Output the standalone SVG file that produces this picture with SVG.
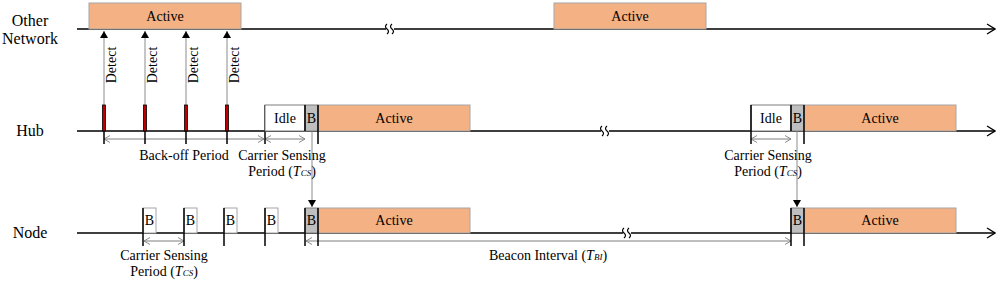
<svg xmlns="http://www.w3.org/2000/svg" width="1000" height="282" viewBox="0 0 1000 282" font-family="'Liberation Serif', 'Times New Roman', serif">
<style>
text{font-family:'Liberation Serif','Times New Roman',serif;font-size:14px;fill:#000}
.big{font-size:16px}
.mid{text-anchor:middle}
.axis{stroke:#000;stroke-width:1.3;fill:none}
.act{fill:#F4B183;stroke:#A6A6A6;stroke-width:1}
.idle{fill:#fff;stroke:#7F7F7F;stroke-width:1}
.bg{fill:#BFBFBF;stroke:#7F7F7F;stroke-width:1}
.bw{fill:#fff;stroke:#A6A6A6;stroke-width:1}
.red{fill:#C00000;stroke:#000;stroke-width:0.8}
.tick{stroke:#000;stroke-width:1.5}
.dim{stroke:#7F7F7F;stroke-width:1;fill:none}
.gl{stroke:#8C8C8C;stroke-width:1;fill:none}
.brk{stroke:#000;stroke-width:1.2;fill:none}
</style>
<defs>
<marker id="open" markerWidth="10" markerHeight="12" refX="9" refY="6" orient="auto" markerUnits="userSpaceOnUse">
<path d="M1,1 L9,6 L1,11" fill="none" stroke="#000" stroke-width="1.3"/>
</marker>
<marker id="dimA" markerWidth="8" markerHeight="8" refX="7" refY="4" orient="auto-start-reverse" markerUnits="userSpaceOnUse">
<path d="M1,0.5 L7,4 L1,7.5" fill="none" stroke="#7F7F7F" stroke-width="0.9"/>
</marker>
<marker id="tri" markerWidth="8" markerHeight="8" refX="7" refY="4" orient="auto" markerUnits="userSpaceOnUse">
<path d="M0,0 L7,4 L0,8 Z" fill="#000"/>
</marker>
</defs>

<g id="labels">
<text x="30" y="26" class="mid big">Other</text>
<text x="30" y="44" class="mid big">Network</text>
<text x="30" y="136" class="mid big">Hub</text>
<text x="30" y="238" class="mid big">Node</text>
</g>

<g id="connectors">
<path class="axis" d="M77,29 H386 M394,29 H995" marker-end="url(#open)"/>
<path class="axis" d="M77,131 H601 M609,131 H995" marker-end="url(#open)"/>
<path class="axis" d="M77,233 H623 M631,233 H995" marker-end="url(#open)"/>
<path class="brk" d="M387,24 q-3,2.5 0,5 q3,2.5 0,5 M392,24 q-3,2.5 0,5 q3,2.5 0,5"/>
<path class="brk" d="M602,126 q-3,2.5 0,5 q3,2.5 0,5 M607,126 q-3,2.5 0,5 q3,2.5 0,5"/>
<path class="brk" d="M624,228 q-3,2.5 0,5 q3,2.5 0,5 M629,228 q-3,2.5 0,5 q3,2.5 0,5"/>
<line class="gl" x1="104" y1="105" x2="104" y2="31" marker-end="url(#tri)"/>
<line class="gl" x1="145" y1="105" x2="145" y2="31" marker-end="url(#tri)"/>
<line class="gl" x1="186" y1="105" x2="186" y2="31" marker-end="url(#tri)"/>
<line class="gl" x1="227" y1="105" x2="227" y2="31" marker-end="url(#tri)"/>
<line class="gl" x1="312" y1="131" x2="312" y2="207" marker-end="url(#tri)"/>
<line class="gl" x1="797" y1="131" x2="797" y2="207" marker-end="url(#tri)"/>
<line class="dim" x1="104" y1="139" x2="264" y2="139" marker-start="url(#dimA)" marker-end="url(#dimA)"/>
<line class="dim" x1="265" y1="139" x2="305" y2="139" marker-start="url(#dimA)" marker-end="url(#dimA)"/>
<line class="dim" x1="751" y1="139" x2="791" y2="139" marker-start="url(#dimA)" marker-end="url(#dimA)"/>
<line class="dim" x1="144" y1="241" x2="184" y2="241" marker-start="url(#dimA)" marker-end="url(#dimA)"/>
<line class="dim" x1="306" y1="241" x2="791" y2="241" marker-start="url(#dimA)" marker-end="url(#dimA)"/>
</g>

<g id="other-network">
<rect class="act" x="89" y="3" width="152" height="26"/>
<text x="165" y="21" class="mid">Active</text>
<rect class="act" x="554" y="3" width="152" height="26"/>
<text x="630" y="21" class="mid">Active</text>
<text transform="translate(116,65) rotate(-90)" class="mid">Detect</text>
<text transform="translate(157,65) rotate(-90)" class="mid">Detect</text>
<text transform="translate(198,65) rotate(-90)" class="mid">Detect</text>
<text transform="translate(239,65) rotate(-90)" class="mid">Detect</text>
</g>

<g id="hub">
<rect class="red" x="102.5" y="105" width="3" height="26"/>
<rect class="red" x="143.5" y="105" width="3" height="26"/>
<rect class="red" x="184.5" y="105" width="3" height="26"/>
<rect class="red" x="225.5" y="105" width="3" height="26"/>
<path class="tick" d="M104,131 V144 M145,131 V144 M186,131 V144 M227,131 V144 M265,105 V144"/>
<rect class="idle" x="265" y="105" width="40" height="26"/>
<text x="285" y="123" class="mid">Idle</text>
<rect class="bg" x="305" y="105" width="13" height="26"/>
<text x="311.5" y="123" class="mid">B</text>
<rect class="act" x="318" y="105" width="152" height="26"/>
<text x="394" y="123" class="mid">Active</text>
<path class="tick" d="M305,105 V131 M318,105 V144"/>
<text x="184" y="160" class="mid">Back-off Period</text>
<text x="282" y="160" class="mid">Carrier Sensing</text>
<text x="282" y="176" class="mid">Period (<tspan font-style="italic">T</tspan><tspan font-style="italic" font-size="9">CS</tspan>)</text>
<rect class="idle" x="751" y="105" width="40" height="26"/>
<text x="771" y="123" class="mid">Idle</text>
<rect class="bg" x="791" y="105" width="13" height="26"/>
<text x="797.5" y="123" class="mid">B</text>
<rect class="act" x="804" y="105" width="152" height="26"/>
<text x="880" y="123" class="mid">Active</text>
<path class="tick" d="M751,105 V144 M791,105 V131 M804,105 V144"/>
<text x="768" y="160" class="mid">Carrier Sensing</text>
<text x="768" y="176" class="mid">Period (<tspan font-style="italic">T</tspan><tspan font-style="italic" font-size="9">CS</tspan>)</text>
</g>

<g id="node">
<rect class="bw" x="143" y="208" width="13" height="25"/>
<text x="149.5" y="225" class="mid">B</text>
<rect class="bw" x="184" y="208" width="13" height="25"/>
<text x="190.5" y="225" class="mid">B</text>
<rect class="bw" x="224" y="208" width="13" height="25"/>
<text x="230.5" y="225" class="mid">B</text>
<rect class="bw" x="265" y="208" width="13" height="25"/>
<text x="271.5" y="225" class="mid">B</text>
<path class="tick" d="M143,208 V246 M184,208 V246 M224,208 V246 M265,208 V246"/>
<rect class="bg" x="305" y="208" width="13" height="25"/>
<text x="311.5" y="225" class="mid">B</text>
<rect class="act" x="318" y="208" width="152" height="25"/>
<text x="394" y="225" class="mid">Active</text>
<path class="tick" d="M305,208 V246 M318,208 V246"/>
<rect class="bg" x="791" y="208" width="13" height="25"/>
<text x="797.5" y="225" class="mid">B</text>
<rect class="act" x="804" y="208" width="152" height="25"/>
<text x="880" y="225" class="mid">Active</text>
<path class="tick" d="M791,208 V246 M804,208 V246"/>
<text x="164" y="260" class="mid">Carrier Sensing</text>
<text x="164" y="276" class="mid">Period (<tspan font-style="italic">T</tspan><tspan font-style="italic" font-size="9">CS</tspan>)</text>
<text x="548" y="260" class="mid">Beacon Interval (<tspan font-style="italic">T</tspan><tspan font-style="italic" font-size="9">BI</tspan>)</text>
</g>
</svg>
